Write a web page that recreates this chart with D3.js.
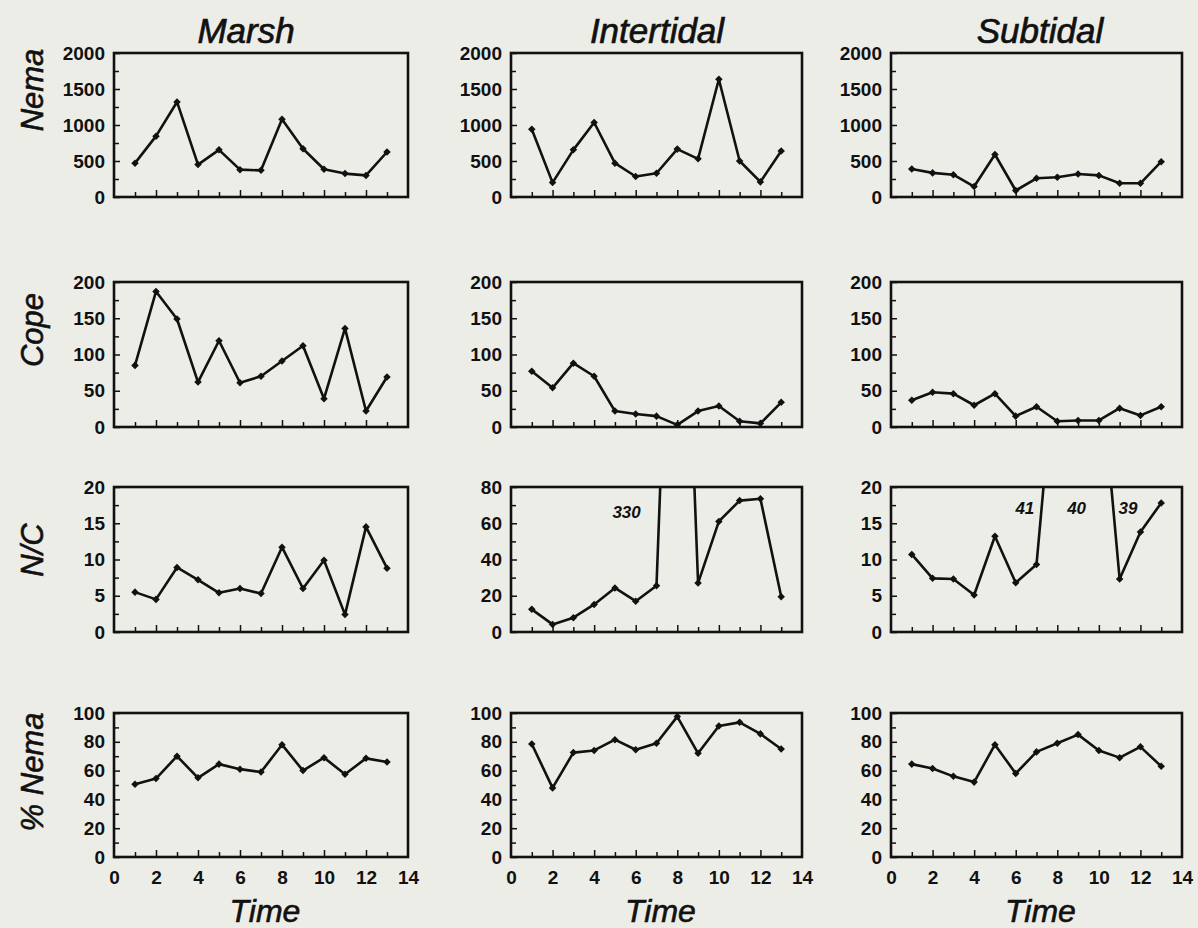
<!DOCTYPE html>
<html>
<head>
<meta charset="utf-8">
<script src="https://cdn.jsdelivr.net/npm/d3@7/dist/d3.min.js"></script>
<style>
  html, body { margin: 0; padding: 0; background: #ededE7; }
  svg { display: block; }
  text { font-family: "Liberation Sans", Arial, Helvetica, sans-serif; fill: #111; }
</style>
</head>
<body>
<svg id="chart" width="1198" height="928"></svg>
<script>
// ---------- DATA ----------
const time = [1, 2, 3, 4, 5, 6, 7, 8, 9, 10, 11, 12, 13];
const habitats = ["Marsh", "Intertidal", "Subtidal"];
const variables = ["Nema", "Cope", "N/C", "% Nema"];
const xTicks = [0, 2, 4, 6, 8, 10, 12, 14];

const marshNema = [470, 845, 1320, 450, 655, 380, 370, 1080, 670, 385, 325, 300, 625];
const interNema = [940, 200, 655, 1035, 470, 285, 330, 665, 530, 1635, 500, 210, 640];
const subNema   = [390, 335, 310, 145, 590, 90, 260, 275, 320, 300, 190, 190, 490];

const marshCope = [85, 187, 149, 62, 119, 61, 70, 91, 112, 39, 136, 22, 69];
const interCope = [77, 54, 88, 70, 22, 18, 15, 3, 22, 29, 8, 5, 34];
const subCope   = [37, 48, 46, 30, 46, 15, 28, 8, 9, 9, 26, 16, 28];

const marshNC = [5.5, 4.5, 8.9, 7.2, 5.4, 6.0, 5.3, 11.7, 6.0, 9.9, 2.4, 14.5, 8.8];
const interNC = [12.5, 4.2, 7.9, 15.2, 24.3, 17.0, 25.5, 330, 27.0, 61, 72.5, 73.5, 19.5];
const subNC   = [10.7, 7.4, 7.3, 5.1, 13.2, 6.8, 9.3, 41, 40, 39, 7.3, 13.8, 17.8];

const marshPct = [50.5, 54.5, 70, 55, 64.5, 61, 59, 78, 60, 69, 57.5, 68.5, 66];
const interPct = [78.5, 48, 72.5, 74, 81.5, 74.5, 79, 97.5, 72, 91, 93.5, 85.5, 75];
const subPct   = [64.5, 61.5, 56, 52, 78, 58, 73, 79, 85, 74, 69, 76.5, 63];

const nemaTicks = [0, 500, 1000, 1500, 2000];
const copeTicks = [0, 50, 100, 150, 200];
const nc20Ticks = [0, 5, 10, 15, 20];
const nc80Ticks = [0, 20, 40, 60, 80];
const pctTicks  = [0, 20, 40, 60, 80, 100];

// off-scale value labels: [row, col, x, y, text]
const offscaleLabels = [
  [2, 1, 5.56, 66, "330"],
  [2, 2, 6.44, 17, "41"],
  [2, 2, 8.93, 17, "40"],
  [2, 2, 11.4, 17, "39"]
];

// panel series grid [row][col]
const series = [
  [marshNema, interNema, subNema],
  [marshCope, interCope, subCope],
  [marshNC, interNC, subNC],
  [marshPct, interPct, subPct]
];
const yTickSets = [
  [nemaTicks, nemaTicks, nemaTicks],
  [copeTicks, copeTicks, copeTicks],
  [nc20Ticks, nc80Ticks, nc20Ticks],
  [pctTicks, pctTicks, pctTicks]
];

// ---------- LAYOUT ----------
const colX = [[114, 408], [511, 802], [891, 1182]];
const rowY = [[53, 197], [282, 427], [487, 632], [713, 857]];
const rowLabelY = [90, 330, 550, 772];
const titleX = [246, 657, 1040];
const tickFont = 19;

const svg = d3.select("#chart");
svg.append("rect").attr("width", 1198).attr("height", 928).attr("fill", "#ededE7");

// column titles
habitats.forEach((h, c) => {
  svg.append("text")
    .attr("x", titleX[c]).attr("y", 43)
    .attr("text-anchor", "middle")
    .attr("font-style", "italic")
    .attr("font-size", 35)
    .attr("stroke", "#111").attr("stroke-width", 0.7)
    .text(h);
});

// row labels
variables.forEach((v, r) => {
  svg.append("text")
    .attr("transform", `translate(43,${rowLabelY[r]}) rotate(-90)`)
    .attr("text-anchor", "middle")
    .attr("font-style", "italic")
    .attr("font-size", 31)
    .attr("stroke", "#111").attr("stroke-width", 0.6)
    .text(v);
});

const line = (x, y) => d3.line().x((d, i) => x(time[i])).y(d => y(d));
const marker = d3.symbol(d3.symbolDiamond2 || d3.symbolSquare).size(36);

for (let r = 0; r < 4; r++) {
  for (let c = 0; c < 3; c++) {
    const [x0, x1] = colX[c];
    const [y0, y1] = rowY[r];
    const ticks = yTickSets[r][c];
    const yMax = ticks[ticks.length - 1];
    const step = ticks[1] - ticks[0];
    const x = d3.scaleLinear().domain([0, 14]).range([x0, x1]);
    const y = d3.scaleLinear().domain([0, yMax]).range([y1, y0]);
    const g = svg.append("g");

    const clipId = `clip-${r}-${c}`;
    svg.append("clipPath").attr("id", clipId)
      .append("rect").attr("x", x0).attr("y", y0)
      .attr("width", x1 - x0).attr("height", y1 - y0);

    // y axis: minor + major ticks inside
    const minor = d3.range(step / 2, yMax, step);
    g.append("g")
      .attr("transform", `translate(${x0},0)`)
      .call(d3.axisRight(y).tickValues(minor).tickSize(5).tickFormat(""))
      .call(s => s.select(".domain").remove())
      .call(s => s.selectAll("line").attr("stroke", "#111").attr("stroke-width", 1.5));

    g.append("g")
      .attr("transform", `translate(${x0},0)`)
      .call(d3.axisLeft(y).tickValues(ticks).tickFormat(d3.format("d"))
        .tickSizeInner(-6).tickSizeOuter(0).tickPadding(9))
      .call(s => s.select(".domain").remove())
      .call(s => s.selectAll("line").attr("stroke", "#111").attr("stroke-width", 1.5))
      .call(s => s.selectAll("text").attr("font-size", tickFont).attr("font-weight", "bold")
        .attr("fill", "#111").attr("font-family", "'Liberation Sans', Arial, sans-serif"));

    // x axis ticks (inside, up)
    g.append("g")
      .attr("transform", `translate(0,${y1})`)
      .call(d3.axisBottom(x).tickValues(d3.range(1, 14)).tickSizeInner(-6).tickSizeOuter(0).tickFormat(""))
      .call(s => s.select(".domain").remove())
      .call(s => s.selectAll("line").attr("stroke", "#111").attr("stroke-width", 1.5)
        .attr("y2", d => d % 2 === 0 ? -7 : -5));

    if (r === 3) {
      g.append("g")
        .attr("transform", `translate(0,${y1})`)
        .call(d3.axisBottom(x).tickValues(xTicks).tickSize(0).tickPadding(14))
        .call(s => s.select(".domain").remove())
        .call(s => s.selectAll("text").attr("font-size", tickFont).attr("font-weight", "bold")
          .attr("fill", "#111").attr("font-family", "'Liberation Sans', Arial, sans-serif"));
      svg.append("text")
        .attr("x", (x0 + x1) / 2 + 4).attr("y", 922)
        .attr("text-anchor", "middle")
        .attr("font-style", "italic")
        .attr("font-size", 32)
        .attr("stroke", "#111").attr("stroke-width", 0.6)
        .text("Time");
    }

    // frame
    g.append("rect")
      .attr("x", x0).attr("y", y0)
      .attr("width", x1 - x0).attr("height", y1 - y0)
      .attr("fill", "none").attr("stroke", "#111").attr("stroke-width", 2.6);

    // data
    const data = series[r][c];
    const dg = g.append("g").attr("clip-path", `url(#${clipId})`);
    dg.append("path")
      .datum(data)
      .attr("d", line(x, y))
      .attr("fill", "none")
      .attr("stroke", "#111")
      .attr("stroke-width", 2.6)
      .attr("stroke-linejoin", "round");
    dg.selectAll("path.pt")
      .data(data)
      .join("path")
      .attr("class", "pt")
      .attr("transform", (d, i) => `translate(${x(time[i])},${y(d)})`)
      .attr("d", marker)
      .attr("fill", "#111");

    offscaleLabels.filter(l => l[0] === r && l[1] === c).forEach(l => {
      g.append("text")
        .attr("x", x(l[2])).attr("y", y(l[3]))
        .attr("text-anchor", "middle")
        .attr("dominant-baseline", "central")
        .attr("font-style", "italic")
        .attr("font-weight", "bold")
        .attr("font-size", 17)
        .text(l[4]);
    });
  }
}
</script>
</body>
</html>
